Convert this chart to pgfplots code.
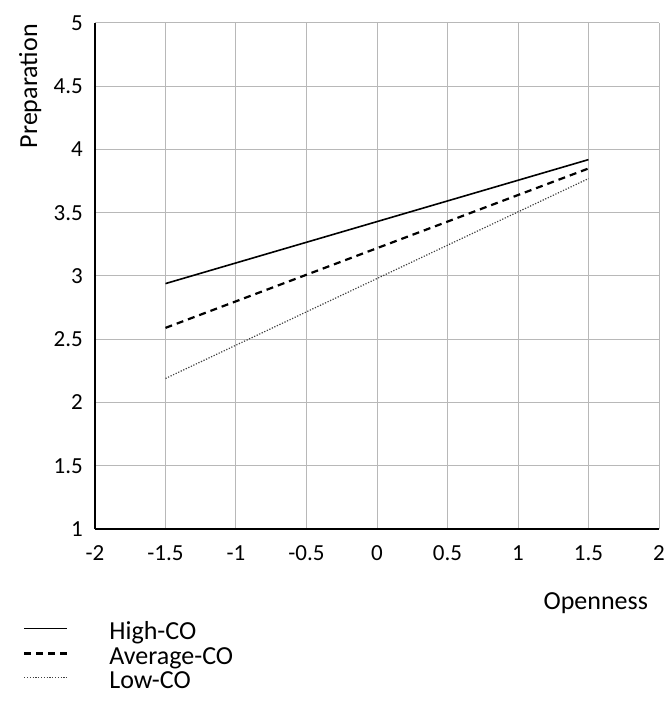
\documentclass[border=0pt]{standalone}
\usepackage{fontspec}
\setmainfont{Carlito}
\usepackage{pgfplots}
\pgfplotsset{compat=1.18}
\definecolor{gridgray}{HTML}{B8B8B8}
\begin{document}
\begin{tikzpicture}
\begin{axis}[
  at={(0pt,0pt)}, anchor=south west,
  scale only axis, width=564pt, height=506pt,
  xmin=-2, xmax=2, ymin=1, ymax=5,
  xtick={-2,-1.5,...,2}, ytick={1,1.5,...,5},
  axis x line=bottom, axis y line=left,
  axis line style={-, black, line width=2pt},
  grid=major, major grid style={gridgray, line width=1pt},
  major tick length=0pt,
  /pgf/number format/assume math mode=true,
  every tick label/.append style={inner sep=0pt, font=\fontsize{23}{27}\selectfont},
  yticklabel style={anchor=east, xshift=-12pt},
  xticklabel style={anchor=north, yshift=-16pt},
  clip=false,
  legend style={at={(-0.133,-0.177)}, anchor=north west, draw=none, fill=none,
    font=\fontsize{26}{30}\selectfont, row sep=4pt,
    nodes={inner sep=1pt, anchor=west},
    /tikz/every odd column/.append style={column sep=40pt}},
  legend cell align=left,
  legend image code/.code={\draw[#1] (0pt,3pt) -- (43pt,3pt);},
]
\addplot[black, line width=1.6pt] coordinates {(-1.5,2.94) (1.5,3.92)};
\addlegendentry{High-CO}
\addplot[black, line width=2.2pt, dash pattern=on 7pt off 5pt] coordinates {(-1.5,2.59) (1.5,3.85)};
\addlegendentry{Average-CO}
\addplot[black!75, line width=1.2pt, dash pattern=on 1.2pt off 1.6pt] coordinates {(-1.5,2.19) (1.5,3.77)};
\addlegendentry{Low-CO}
\node[rotate=90, font=\fontsize{26}{30}\selectfont] at (axis description cs:-0.115,0.875) {Preparation};
\node[font=\fontsize{26}{30}\selectfont] at (axis description cs:0.888,-0.146) {Openness};
\end{axis}
\pgfresetboundingbox
\path[use as bounding box] (-95pt,-175pt) rectangle (572pt,529pt);
\end{tikzpicture}
\end{document}
